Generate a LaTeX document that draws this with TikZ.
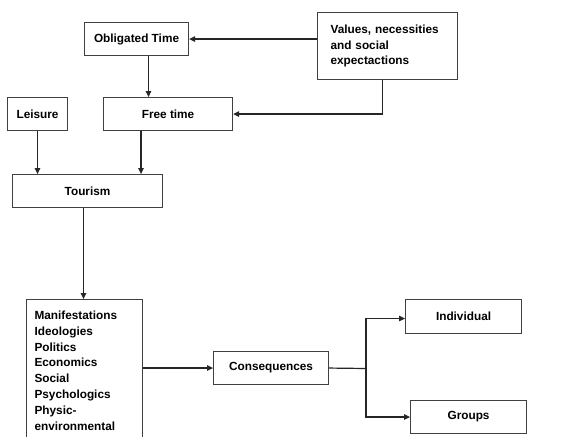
\documentclass[tikz,border=0pt]{standalone}
\usepackage{fontspec}
\setmainfont{Liberation Sans}
\usetikzlibrary{arrows.meta}
\begin{document}
\begin{tikzpicture}[x=1pt,y=-1pt,
  box/.style={draw=black!75, line width=1.1pt, rectangle, inner sep=0pt,
    font=\bfseries\fontsize{11.8}{15.8}\selectfont, anchor=north west},
  line/.style={draw=black!85, line width=1.2pt},
  conn/.style={line, -{Triangle[length=6pt,width=5.5pt]}}]
\useasboundingbox (0,0) rectangle (582,437);
\clip (0,0) rectangle (582,437);
\fill[white] (0,0) rectangle (582,437);
\node[box, minimum width=104pt, minimum height=33pt] (obl) at (84,22) {Obligated Time};
\node[box, minimum width=140pt, minimum height=67pt, text width=114pt, inner xsep=13pt, align=left] (val) at (317,12) {Values, necessities\\and social\\expectactions};
\node[box, minimum width=60pt, minimum height=33pt] (leis) at (7,97) {Leisure};
\node[box, minimum width=129pt, minimum height=33pt] (free) at (103,97) {Free time};
\node[box, minimum width=150pt, minimum height=33pt] (tour) at (12,174) {Tourism};
\node[box, minimum width=115pt, minimum height=142pt, text width=100pt, inner xsep=8pt, align=left] (man) at (26,299) {Manifestations\\Ideologies\\Politics\\Economics\\Social\\Psychologics\\Physic-\\environmental};
\node[box, minimum width=115pt, minimum height=33pt] (cons) at (213,351) {Consequences};
\node[box, minimum width=116pt, minimum height=34pt] (ind) at (405,299) {Individual};
\node[box, minimum width=116pt, minimum height=33pt] (grp) at (410,400) {Groups};
\coordinate (j) at (366,368.5);
\draw[conn] (obl.east -| val.west) -- (obl.east);
\draw[conn] ([xshift=12pt]obl.south) -- ([xshift=12pt]obl.south |- free.north);
\draw[conn] ([xshift=-5pt]val.south) |- (free.east);
\draw[conn] (leis.south) -- (leis.south |- tour.north);
\draw[conn] ([xshift=-27pt]free.south) -- ([xshift=-27pt]free.south |- tour.north);
\draw[conn] ([xshift=-4pt]tour.south) -- ([xshift=-4pt]tour.south |- man.north);
\draw[conn] (man.east |- cons.west) -- (cons.west);
\draw[line] (cons.east) -- (j);
\draw[conn] (j) |- ([yshift=-2pt]ind.west);
\draw[conn] (j) |- (grp.west);
\end{tikzpicture}
\end{document}
